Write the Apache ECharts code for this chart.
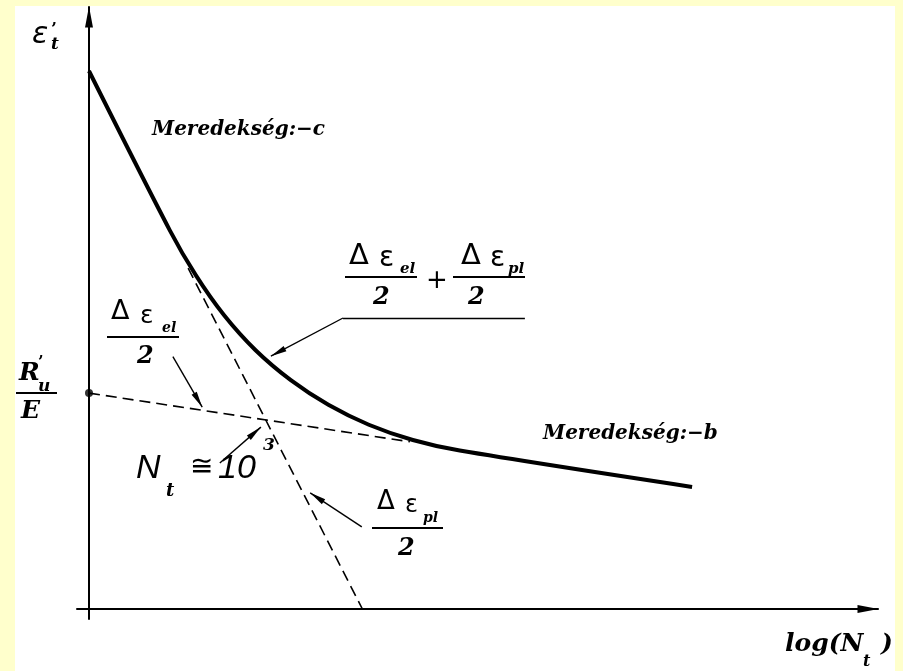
<!DOCTYPE html>
<html>
<head>
<meta charset="utf-8">
<script src="https://cdn.jsdelivr.net/npm/echarts@6/dist/echarts.min.js"></script>
<style>
  html, body { margin: 0; padding: 0; background: #ffffcc; }
  #chart { width: 903px; height: 671px; }
</style>
</head>
<body>
<div id="chart"></div>
<script>
// Strain–life sketch on log–log axes (relative units).
// x: log(N_t) in decades, y: log of strain amplitude.

// Total strain amplitude curve (elastic + plastic part)
const totalX = [0, 1.38, 1.82, 2.30, 2.84, 3.44, 4.08, 4.77, 5.52, 6.32, 10.28];
const totalY = [9.17, 6.45, 5.69, 5.01, 4.41, 3.90, 3.48, 3.14, 2.88, 2.70, 2.08];

// Elastic line (slope -b), starting at R'_u / E on the strain axis
const elasticX = [0, 5.47];
const elasticY = [3.68, 2.85];

// Plastic line (slope -c)
const plasticX = [1.69, 4.66];
const plasticY = [5.81, 0];

// Intercept point R'_u / E
const interceptX = [0];
const interceptY = [3.68];

// Axis extents
const xRange = [-0.2045, 13.449];
const yRange = [-0.1705, 10.261];

// Leader lines of the annotations (in axis units; last point carries the arrowhead)
const sumLeader = [[7.43, 4.96], [4.33, 4.96], [3.10, 4.31]];
const elLeader = [[1.43, 4.30], [1.93, 3.44]];
const nLeader = [[2.23, 2.49], [2.93, 3.10]];
const plLeader = [[4.65, 1.40], [3.77, 1.98]];

const zip = (xs, ys) => xs.map((x, i) => [x, ys[i]]);

const SERIF = '"DejaVu Serif", "Liberation Serif", serif';
const SANS = '"DejaVu Sans", "Liberation Sans", sans-serif';
const LSANS = '"Liberation Sans", Arial, sans-serif';

function txt(x, y, text, font, align) {
  return {
    type: 'text', x: x, y: y, silent: true, z: 50,
    style: {
      text: text, font: font, fill: '#000',
      align: align || 'left', verticalAlign: 'middle',
      textAlign: align || 'left', textVerticalAlign: 'middle'
    }
  };
}
function bar(x1, x2, y) {
  return {
    type: 'line', silent: true, z: 50,
    shape: { x1: x1, y1: y, x2: x2, y2: y },
    style: { stroke: '#000', lineWidth: 2 }
  };
}

const arrowEnd = { symbol: 'triangle', symbolSize: [6, 16], symbolOffset: [0, 8] };
function leader(points) {
  const segs = [];
  for (let i = 0; i < points.length - 1; i++) {
    const last = i === points.length - 2;
    segs.push([
      { coord: points[i], symbol: 'none' },
      Object.assign({ coord: points[i + 1] }, last ? arrowEnd : { symbol: 'none' })
    ]);
  }
  return segs;
}

const chart = echarts.init(document.getElementById('chart'), null, { renderer: 'canvas' });

const axisCommon = {
  type: 'value',
  axisLine: {
    show: true, onZero: true,
    symbol: ['none', 'triangle'],
    symbolSize: [8, 21],
    symbolOffset: [0, -10],
    lineStyle: { color: '#000', width: 2 }
  },
  axisTick: { show: false },
  axisLabel: { show: false },
  splitLine: { show: false }
};

const graphics = [
  { type: 'rect', z: -100, silent: true, shape: { x: 15, y: 6, width: 880, height: 665 }, style: { fill: '#ffffff' } },

  // axis titles
  txt(32, 35, 'ε', 'italic 30px ' + SANS),
  txt(51, 30, '’', 'bold 17px ' + SERIF),
  txt(51, 45, 't', 'italic bold 17px ' + SERIF),
  txt(785, 644, 'log(N', 'italic bold 25px ' + SERIF),
  txt(863, 662, 't', 'italic bold 16px ' + SERIF),
  txt(881, 644, ')', 'italic bold 25px ' + SERIF),

  // R'_u / E
  txt(19, 373, 'R', 'italic bold 25px ' + SERIF),
  txt(38, 363, '’', 'bold 16px ' + SERIF),
  txt(38, 387, 'u', 'italic bold 17px ' + SERIF),
  bar(16, 57, 393),
  txt(21, 411, 'E', 'italic bold 25px ' + SERIF),

  // slopes
  txt(152, 130, 'Meredekség:−c', 'italic bold 20px ' + SERIF),
  txt(543, 434, 'Meredekség:−b', 'italic bold 20px ' + SERIF),

  // (Δε_el)/2 + (Δε_pl)/2
  txt(349, 256, 'Δ', '29px ' + SANS),
  txt(379, 259, 'ε', '28px ' + SANS),
  txt(400, 269, 'el', 'italic bold 15px ' + SERIF),
  bar(345, 417, 277),
  txt(373, 298, '2', 'italic bold 24px ' + SERIF),
  txt(437, 281, '+', '26px ' + SANS, 'center'),
  txt(461, 256, 'Δ', '29px ' + SANS),
  txt(490, 259, 'ε', '28px ' + SANS),
  txt(508, 269, 'pl', 'italic bold 15px ' + SERIF),
  bar(453, 525, 277),
  txt(468, 298, '2', 'italic bold 24px ' + SERIF),

  // (Δε_el)/2
  txt(111, 312, 'Δ', '27px ' + SANS),
  txt(140, 316, 'ε', '25px ' + SANS),
  txt(162, 328, 'el', 'italic bold 14px ' + SERIF),
  bar(107, 179, 337),
  txt(137, 357, '2', 'italic bold 24px ' + SERIF),

  // (Δε_pl)/2
  txt(377, 502, 'Δ', '26px ' + SANS),
  txt(405, 506, 'ε', '24px ' + SANS),
  txt(423, 518, 'pl', 'italic bold 14px ' + SERIF),
  bar(372, 443, 528),
  txt(398, 549, '2', 'italic bold 24px ' + SERIF),

  // N_t ≅ 10^3
  txt(136, 469, 'N', 'italic 34px ' + LSANS),
  txt(166, 491, 't', 'italic bold 18px ' + SERIF),
  txt(190, 468, '≅', '28px ' + SANS),
  txt(218, 469, '10', 'italic 34px ' + LSANS),
  txt(263, 446, '3', 'italic bold 17px ' + SERIF)
];

chart.setOption({
  animation: false,
  backgroundColor: '#ffffcc',
  grid: { left: 77, right: 25, top: 7, bottom: 52, containLabel: false },
  xAxis: Object.assign({}, axisCommon, { min: xRange[0], max: xRange[1] }),
  yAxis: Object.assign({}, axisCommon, { min: yRange[0], max: yRange[1] }),
  graphic: graphics,
  series: [
    {
      name: 'total',
      type: 'line',
      data: zip(totalX, totalY),
      smooth: 0.3,
      showSymbol: false,
      symbol: 'none',
      lineStyle: { color: '#000', width: 4 },
      z: 4,
      silent: true
    },
    {
      name: 'elastic',
      type: 'line',
      data: zip(elasticX, elasticY),
      showSymbol: false,
      symbol: 'none',
      lineStyle: { color: '#000', width: 1.6, type: [11, 6] },
      z: 3,
      silent: true,
      markLine: {
        silent: true,
        animation: false,
        symbol: ['none', 'none'],
        label: { show: false },
        emphasis: { disabled: true },
        lineStyle: { color: '#000', width: 1.4, type: 'solid' },
        data: [].concat(leader(sumLeader), leader(elLeader), leader(nLeader), leader(plLeader))
      }
    },
    {
      name: 'plastic',
      type: 'line',
      data: zip(plasticX, plasticY),
      showSymbol: false,
      symbol: 'none',
      lineStyle: { color: '#000', width: 1.6, type: [11, 6] },
      z: 3,
      silent: true
    },
    {
      name: 'intercept',
      type: 'scatter',
      data: zip(interceptX, interceptY),
      symbol: 'circle',
      symbolSize: 8,
      itemStyle: { color: '#000' },
      z: 5,
      silent: true
    }
  ]
});
</script>
</body>
</html>
